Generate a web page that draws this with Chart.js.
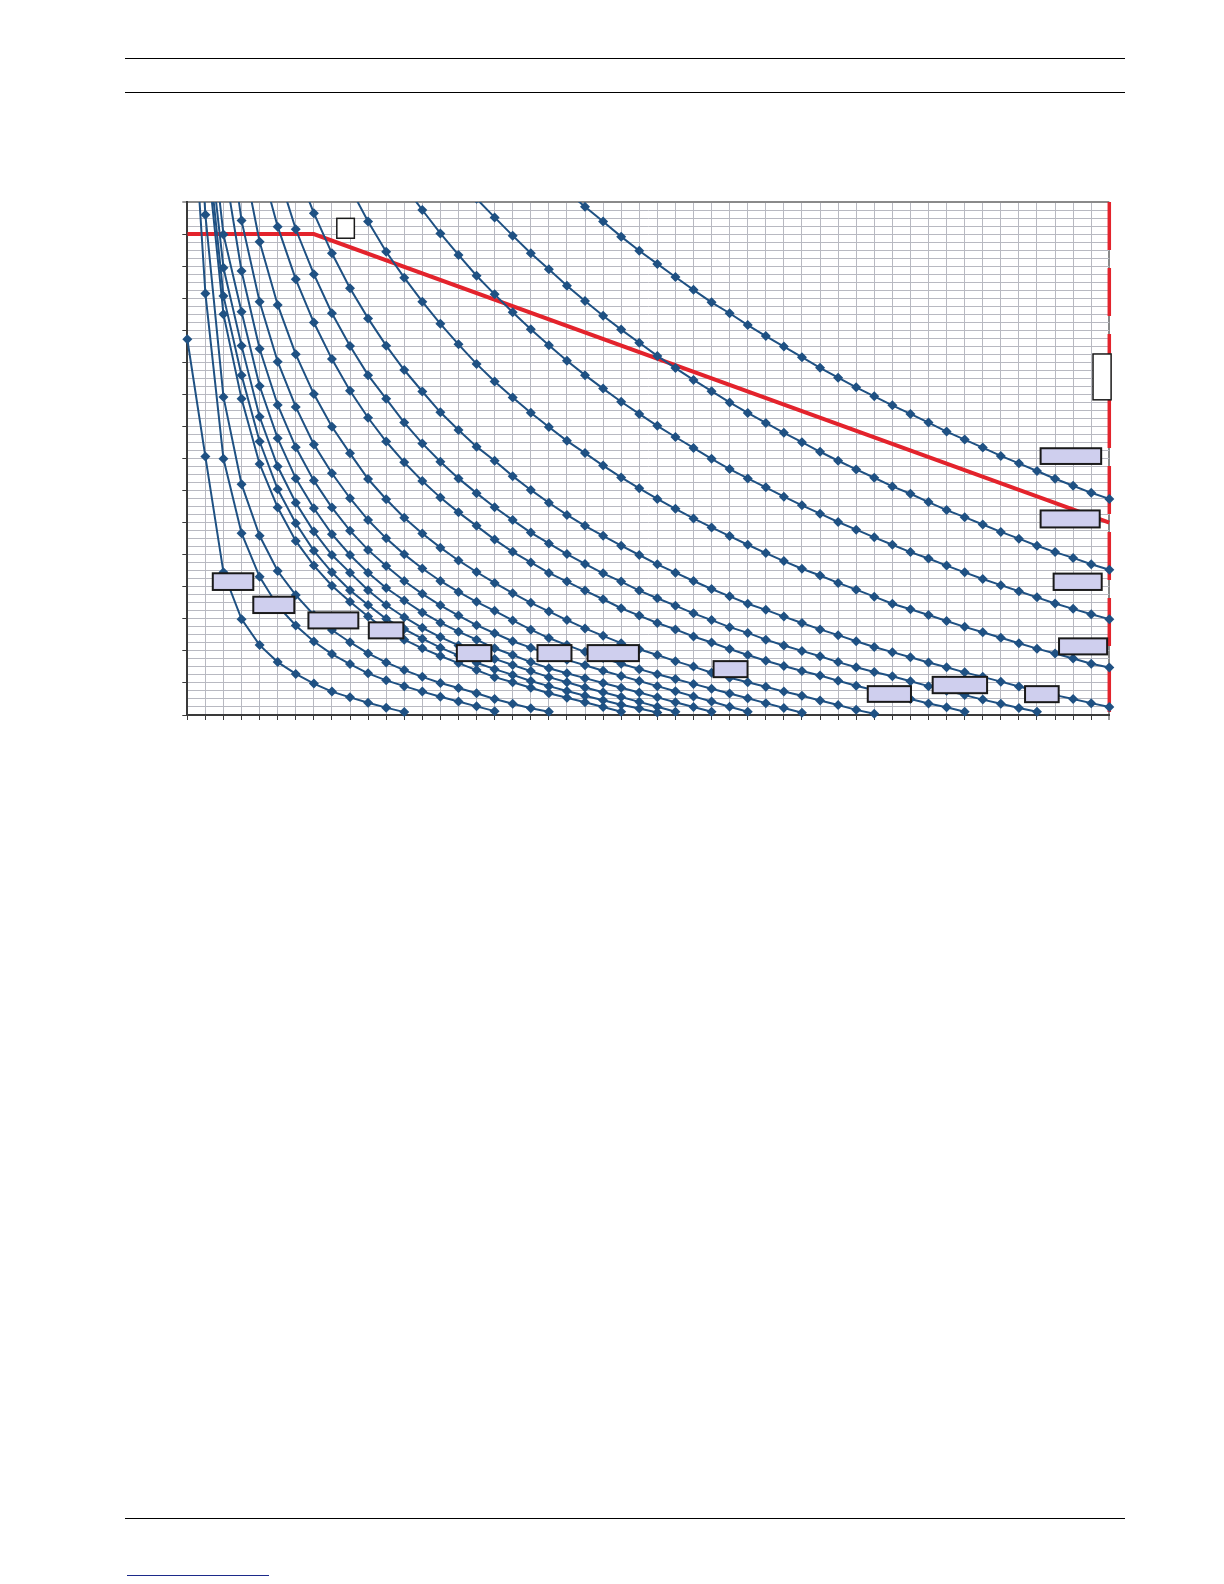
<!DOCTYPE html>
<html>
<head>
  <title>Load / span curves</title>
  <script src="https://cdn.jsdelivr.net/npm/chart.js"></script>
  <style>
    body { margin: 0; background: #fff; }
    #page { position: relative; width: 1224px; height: 1584px; overflow: hidden; background: #fff; }
    .rule { position: absolute; left: 125px; width: 1000px; height: 1px; background: #000; }
    #chartBox { position: absolute; left: 0; top: 0; width: 1224px; height: 760px; }
  </style>
</head>
<body>
<div id="page">
  <div class="rule" style="top:58px"></div>
  <div class="rule" style="top:92px"></div>
  <div id="chartBox"><canvas id="myChart" width="1224" height="760"></canvas></div>
  <div class="rule" style="top:1518px"></div>
  <div style="position:absolute;left:127px;top:1575px;width:142px;height:1px;background:#1c2a8a"></div>
</div>
<script>
// first x index of each curve (curves run on an integer grid 0..51)
const curveStarts = [21, 16, 12, 9, 6, 5, 4, 3, 2, 2, 1, 1, 1, 1, 0, 0, 0];

const curve1 = [16.33, 15.85, 15.39, 14.92, 14.48, 14.07, 13.66, 13.26, 12.87, 12.53, 12.16, 11.82, 11.49, 11.16, 10.83, 10.52, 10.22, 9.94, 9.66, 9.39, 9.12, 8.84, 8.59, 8.34, 8.08, 7.85, 7.61, 7.37, 7.15, 6.93, 6.74];
const curve2 = [16.1, 15.52, 14.95, 14.4, 13.9, 13.39, 12.91, 12.45, 12.02, 11.61, 11.2, 10.82, 10.45, 10.1, 9.75, 9.42, 9.11, 8.8, 8.51, 8.21, 7.93, 7.66, 7.4, 7.13, 6.9, 6.64, 6.39, 6.17, 5.94, 5.71, 5.5, 5.28, 5.08, 4.9, 4.7, 4.53];
const curve3 = [16.5, 15.75, 15.02, 14.35, 13.7, 13.12, 12.56, 12.03, 11.53, 11.05, 10.6, 10.18, 9.77, 9.39, 9.02, 8.67, 8.33, 7.99, 7.67, 7.38, 7.1, 6.81, 6.54, 6.28, 6.02, 5.78, 5.54, 5.31, 5.08, 4.88, 4.66, 4.45, 4.24, 4.05, 3.86, 3.67, 3.48, 3.31, 3.14, 2.99];
const curve4 = [16.45, 15.39, 14.45, 13.64, 12.89, 12.2, 11.56, 10.95, 10.4, 9.9, 9.43, 8.98, 8.55, 8.17, 7.78, 7.41, 7.07, 6.74, 6.43, 6.13, 5.85, 5.58, 5.31, 5.05, 4.8, 4.56, 4.35, 4.12, 3.91, 3.69, 3.47, 3.3, 3.12, 2.93, 2.75, 2.58, 2.41, 2.24, 2.07, 1.92, 1.76, 1.6, 1.48];
const curve5 = [17.1, 15.65, 14.4, 13.31, 12.37, 11.52, 10.76, 10.09, 9.44, 8.89, 8.37, 7.93, 7.45, 7.02, 6.62, 6.24, 5.9, 5.59, 5.28, 4.99, 4.7, 4.44, 4.18, 3.93, 3.7, 3.47, 3.28, 3.07, 2.87, 2.67, 2.49, 2.3, 2.12, 1.96, 1.8, 1.64, 1.49, 1.33, 1.19, 1.04, 0.89, 0.75, 0.62, 0.5, 0.37, 0.25];
const curve6 = [16.95, 15.15, 13.75, 12.53, 11.51, 10.6, 9.86, 9.12, 8.47, 7.9, 7.38, 6.92, 6.48, 6.08, 5.69, 5.35, 5.02, 4.71, 4.42, 4.16, 3.88, 3.64, 3.41, 3.17, 2.96, 2.74, 2.56, 2.35, 2.17, 2.0, 1.83, 1.65, 1.49, 1.34, 1.21, 1.05, 0.9, 0.76, 0.62, 0.48, 0.35, 0.22, 0.1];
const curve7 = [17.3, 15.23, 13.59, 12.24, 11.1, 10.11, 9.27, 8.53, 7.88, 7.3, 6.78, 6.32, 5.9, 5.47, 5.09, 4.76, 4.43, 4.16, 3.88, 3.61, 3.33, 3.1, 2.87, 2.67, 2.45, 2.26, 2.06, 1.87, 1.69, 1.53, 1.37, 1.23, 1.07, 0.91, 0.77, 0.63, 0.5, 0.36, 0.24, 0.1];
const curve8 = [17.6, 14.76, 12.79, 11.25, 10.01, 8.99, 8.16, 7.36, 6.73, 6.15, 5.66, 5.22, 4.82, 4.46, 4.12, 3.8, 3.5, 3.23, 2.96, 2.7, 2.47, 2.24, 2.05, 1.87, 1.68, 1.51, 1.32, 1.16, 1.02, 0.88, 0.73, 0.6, 0.45, 0.31, 0.16, 0.04];
const curve9 = [19.5, 15.42, 12.89, 11.02, 9.61, 8.44, 7.54, 6.76, 6.08, 5.51, 5.01, 4.57, 4.18, 3.84, 3.53, 3.25, 2.95, 2.66, 2.4, 2.18, 1.97, 1.78, 1.6, 1.43, 1.27, 1.12, 0.97, 0.82, 0.67, 0.52, 0.37, 0.22, 0.07];
const curve10 = [17.3, 13.85, 11.42, 9.67, 8.35, 7.31, 6.47, 5.75, 5.15, 4.65, 4.18, 3.78, 3.42, 3.1, 2.8, 2.55, 2.3, 2.1, 1.9, 1.72, 1.55, 1.38, 1.22, 1.06, 0.9, 0.74, 0.58, 0.42, 0.26, 0.1];
const curve11 = [20, 14.99, 12.58, 10.26, 8.63, 7.38, 6.45, 5.64, 4.99, 4.44, 3.96, 3.57, 3.2, 2.88, 2.6, 2.35, 2.08, 1.87, 1.65, 1.46, 1.3, 1.15, 1.0, 0.85, 0.7, 0.55, 0.4, 0.25, 0.1];
const curve12 = [19, 13.95, 11.52, 9.3, 7.75, 6.62, 5.72, 4.99, 4.44, 3.89, 3.43, 3.05, 2.72, 2.43, 2.17, 1.95, 1.75, 1.56, 1.37, 1.18, 1.02, 0.86, 0.71, 0.56, 0.41, 0.26, 0.1];
const curve13 = [18.5, 13.07, 10.6, 8.53, 7.04, 5.98, 5.12, 4.45, 3.89, 3.43, 3.0, 2.68, 2.38, 2.1, 1.86, 1.63, 1.43, 1.25, 1.06, 0.9, 0.75, 0.6, 0.46, 0.32, 0.2, 0.08];
const curve14 = [18, 12.5, 9.86, 7.83, 6.47, 5.43, 4.66, 4.03, 3.53, 3.07, 2.65, 2.35, 2.08, 1.84, 1.62, 1.4, 1.18, 1.02, 0.85, 0.68, 0.54, 0.4, 0.25, 0.1];
const curve15 = [25, 15.6, 9.92, 7.2, 5.59, 4.49, 3.74, 3.12, 2.65, 2.27, 1.92, 1.64, 1.4, 1.19, 1.0, 0.84, 0.68, 0.5, 0.35, 0.21, 0.1];
const curve16 = [22, 13.15, 7.99, 5.67, 4.31, 3.4, 2.79, 2.29, 1.9, 1.59, 1.3, 1.08, 0.9, 0.73, 0.57, 0.42, 0.27, 0.12];
const curve17 = [11.72, 8.06, 4.45, 2.99, 2.18, 1.65, 1.28, 0.98, 0.73, 0.55, 0.38, 0.23, 0.09];

// red limit line (x, y) and the vertical limit at the right
const limitX = [0, 7, 51];
const limitY = [15, 15, 6];
const edgeX = [51, 51];
const edgeY = [16, 0];

// empty label boxes, in axis units: [xFrom, xTo, yFrom, yTo]
const labelBoxes = [
  [1.41, 3.65, 3.90, 4.42], [3.65, 5.92, 3.18, 3.69], [6.70, 9.46, 2.70, 3.20],
  [10.04, 11.95, 2.39, 2.89], [14.91, 16.82, 1.68, 2.18], [19.37, 21.25, 1.68, 2.18],
  [22.14, 24.98, 1.68, 2.18], [29.11, 30.99, 1.18, 1.68], [37.64, 40.03, 0.41, 0.90],
  [41.23, 44.24, 0.68, 1.19], [46.34, 48.20, 0.40, 0.90], [47.20, 50.55, 7.83, 8.32],
  [47.20, 50.47, 5.85, 6.38], [47.92, 50.58, 3.90, 4.41], [48.22, 50.88, 1.89, 2.39]
];
const blankBoxes = [[8.27, 9.24, 14.87, 15.49], [50.1, 51.1, 9.83, 11.26]];

const curves = [curve1, curve2, curve3, curve4, curve5, curve6, curve7, curve8, curve9,
  curve10, curve11, curve12, curve13, curve14, curve15, curve16, curve17];
const blue = '#1f5183';
const red = '#e3232c';

const datasets = curves.map((vals, k) => ({
  data: vals.map((v, i) => ({ x: curveStarts[k] + i, y: v })),
  showLine: true,
  borderColor: blue,
  backgroundColor: blue,
  borderWidth: 2,
  pointStyle: 'rectRot',
  pointRadius: 5,
  pointBorderWidth: 0,
  clip: { left: 6, top: 0, right: 6, bottom: 6 },
  order: 0
}));
datasets.push({
  data: limitX.map((x, i) => ({ x: x, y: limitY[i] })),
  showLine: true, borderColor: red, borderWidth: 4, pointRadius: 0,
  clip: { left: 0, top: 0, right: 2, bottom: 0 }, order: 1
});
datasets.push({
  data: edgeX.map((x, i) => ({ x: x, y: edgeY[i] })),
  showLine: true, borderColor: red, borderWidth: 3.5, borderDash: [48, 18], pointRadius: 0,
  clip: false, order: 1
});

const boxPlugin = {
  id: 'labelBoxes',
  afterDatasetsDraw(chart) {
    const { ctx, scales: { x, y } } = chart;
    const draw = (b, fill, lw) => {
      const l = x.getPixelForValue(b[0]), r = x.getPixelForValue(b[1]);
      const t = y.getPixelForValue(b[3]), btm = y.getPixelForValue(b[2]);
      ctx.fillStyle = fill;
      ctx.fillRect(l, t, r - l, btm - t);
      ctx.lineWidth = lw;
      ctx.strokeStyle = '#1a1a1a';
      ctx.strokeRect(l, t, r - l, btm - t);
    };
    ctx.save();
    labelBoxes.forEach(b => draw(b, '#cfcfee', 2));
    blankBoxes.forEach(b => draw(b, '#ffffff', 1.5));
    ctx.restore();
  }
};

const isMajor = v => Math.abs(v - Math.round(v)) < 1e-6;

new Chart(document.getElementById('myChart'), {
  type: 'scatter',
  data: { datasets: datasets },
  options: {
    responsive: false,
    animation: false,
    layout: { padding: { left: 181.3, top: 202, right: 114.7, bottom: 39 } },
    plugins: { legend: { display: false }, tooltip: { enabled: false } },
    elements: { line: { tension: 0 } },
    scales: {
      x: {
        type: 'linear', min: 0, max: 51,
        ticks: { display: false, stepSize: 1, autoSkip: false },
        grid: {
          color: c => (c.tick && c.tick.value === 51) ? '#8a8a8a' : '#b8b9c1',
          lineWidth: c => (c.tick && c.tick.value === 51) ? 2 : 1,
          tickLength: 5, tickColor: '#3a3a3a', tickWidth: 1
        },
        border: { color: '#3a3a3a', width: 2 },
        afterFit: s => { s.height = 6; }
      },
      y: {
        type: 'linear', min: 0, max: 16,
        ticks: { display: false, stepSize: 0.25, autoSkip: false },
        grid: {
          color: c => (c.tick && c.tick.value === 16) ? '#8a8a8a' : '#b8b9c1',
          lineWidth: c => (c.tick && c.tick.value === 16) ? 2 : 1,
          tickLength: 5,
          tickColor: c => (c.tick && isMajor(c.tick.value)) ? '#3a3a3a' : 'rgba(0,0,0,0)',
          tickWidth: 1
        },
        border: { color: '#3a3a3a', width: 2 },
        afterFit: s => { s.width = 6; }
      }
    }
  },
  plugins: [boxPlugin]
});
</script>
</body>
</html>
